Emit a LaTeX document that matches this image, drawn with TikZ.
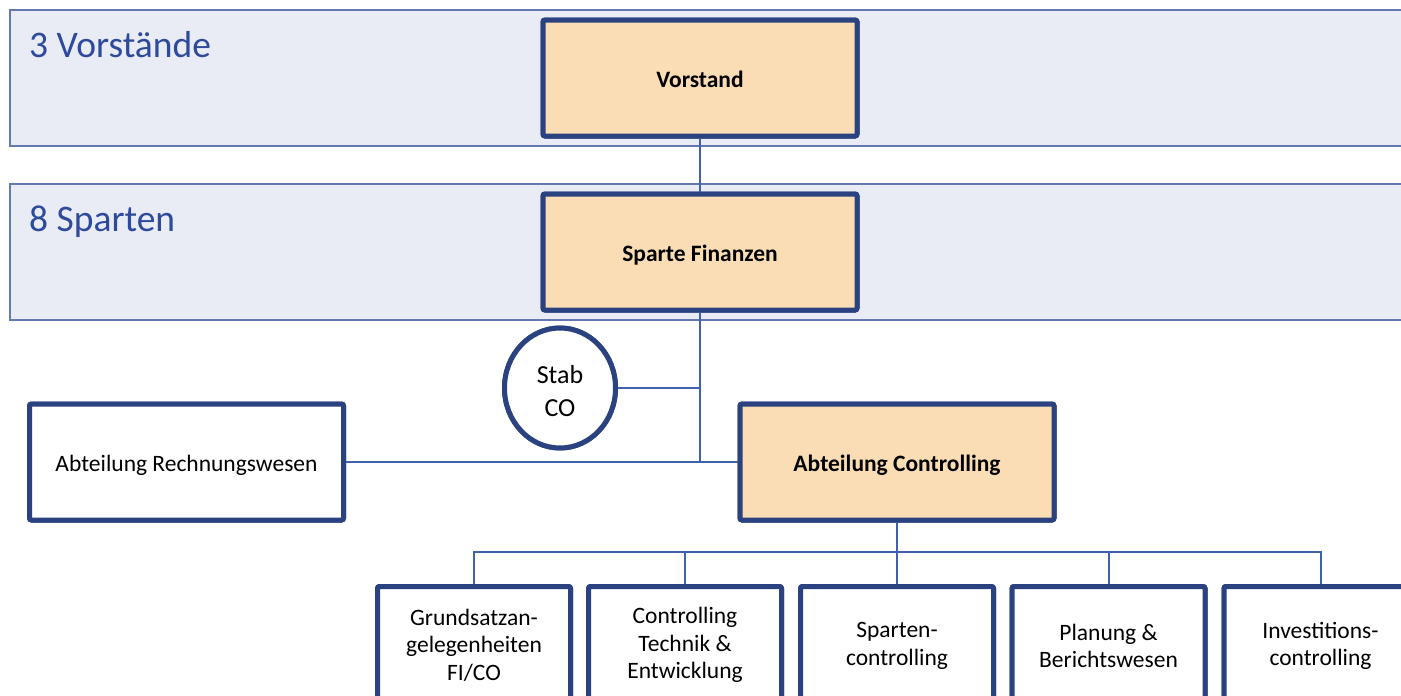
\documentclass[tikz,border=0pt]{standalone}
\usepackage{fontspec}
\setmainfont{Carlito}
\usetikzlibrary{shapes.geometric}
\definecolor{bandfill}{HTML}{E9ECF5}
\definecolor{bandline}{HTML}{6479B0}
\definecolor{boxline}{HTML}{2A4380}
\definecolor{orgfill}{HTML}{FADDB5}
\definecolor{conn}{HTML}{4062AD}
\definecolor{bandtext}{HTML}{2E4A9B}
\tikzset{
  band/.style={draw=bandline, fill=bandfill, line width=2pt},
  bandlabel/.style={anchor=base west, text=bandtext, font=\fontsize{37.5}{42}\selectfont, inner sep=0},
  unit/.style={draw=boxline, line width=5pt, rounded corners=2pt, minimum width=314pt, minimum height=116pt, inner sep=0, text height=19pt, text depth=0pt, font=\fontsize{23.5}{28}\selectfont},
  main/.style={unit, fill=orgfill, font=\fontsize{23.5}{28}\selectfont\bfseries},
  plain/.style={unit, fill=white},
  sub/.style={draw=boxline, line width=5pt, rounded corners=2pt, fill=white, minimum width=193pt, minimum height=200pt, inner sep=0},
  subtext/.style={align=center, font=\fontsize{23.5}{27.5}\selectfont, inner sep=0},
  staff/.style={ellipse, draw=boxline, line width=5pt, fill=white, minimum width=111pt, minimum height=120pt, inner sep=0},
  stafftext/.style={align=center, font=\fontsize{26}{33}\selectfont, inner sep=0},
  link/.style={draw=conn, line width=2pt}
}
\begin{document}
\begin{tikzpicture}[x=1pt, y=-1pt]
\useasboundingbox (0,0) rectangle (1401,696);
\clip (0,0) rectangle (1401,696);

% hierarchy levels
\draw[band] (1430,10) -- (10,10) -- (10,146) -- (1430,146);
\draw[band] (1430,184) -- (10,184) -- (10,320) -- (1430,320);
\node[bandlabel] (lv1) at (29,57) {3 Vorstände};
\node[bandlabel] (lv2) at (29,231) {8 Sparten};

% junction points of the connectors
\coordinate (hub) at (700,462);
\coordinate (staffjoin) at (700,388);
\coordinate (bus) at (897,552);

% units
\node[main] (vor) at (700,78) {Vorstand};
\node[main] (spa) at (700,252) {Sparte Finanzen};
\node[plain] (rw) at (186.5,462) {Abteilung Rechnungswesen};
\node[main] (ctl) at (897,462) {Abteilung Controlling};
\node[staff] (stab) at (560,388) {};

\node[sub] (g1) at (474,686.5) {};
\node[sub] (g2) at (685,686.5) {};
\node[sub] (g3) at (897,686.5) {};
\node[sub] (g4) at (1108.5,686.5) {};
\node[sub] (g5) at (1320.5,686.5) {};

% connectors
\path[link] (vor.south) -- (spa.north);
\path[link] (spa.south) -- (hub);
\path[link] (stab.east) -- (staffjoin);
\path[link] (rw.east) -- (ctl.west);
\path[link] (ctl.south) -- (bus);
\path[link] (g1.north) -- (g1.north |- bus) -- (g5.north |- bus) -- (g5.north);
\path[link] (g2.north |- bus) -- (g2.north);
\path[link] (g3.north |- bus) -- (g3.north);
\path[link] (g4.north |- bus) -- (g4.north);

% frames drawn again over the connector ends
\node[main] at (vor) {Vorstand};
\node[main] at (spa) {Sparte Finanzen};
\node[plain] at (rw) {Abteilung Rechnungswesen};
\node[main] at (ctl) {Abteilung Controlling};
\node[staff] at (stab) {};
\node[sub] at (g1) {};
\node[sub] at (g2) {};
\node[sub] at (g3) {};
\node[sub] at (g4) {};
\node[sub] at (g5) {};

% texts
\node[stafftext] (stabt) at (560,391) {Stab\\CO};
\node[subtext] (t1) at (474,645) {Grundsatzan-\\gelegenheiten\\FI/CO};
\node[subtext] (t2) at (685,645) {Controlling\\Technik \&\\Entwicklung};
\node[subtext] (t3) at (897,646) {Sparten-\\controlling};
\node[subtext] (t4) at (1108.5,646) {Planung \&\\Berichtswesen};
\node[subtext] (t5) at (1320.5,646) {Investitions-\\controlling};
\end{tikzpicture}
\end{document}
